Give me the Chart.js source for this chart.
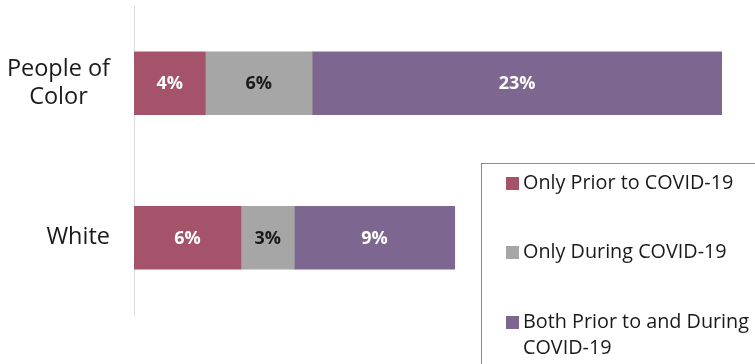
<!DOCTYPE html>
<html>
<head>
<meta charset="utf-8">
<script src="https://cdn.jsdelivr.net/npm/chart.js@4"></script>
<style>
  body { margin: 0; background: #fff; }
  #wrap { width: 755px; height: 364px; }
</style>
</head>
<body>
<div id="wrap"><canvas id="chart" width="755" height="364"></canvas></div>
<script>
// Groups and shares (percent)
const categories = [['People of', 'Color'], ['White']];
const seriesNames = ['Only Prior to COVID-19', 'Only During COVID-19', ['Both Prior to and During', 'COVID-19']];
const priorOnly = [4, 6];
const duringOnly = [6, 3];
const bothPeriods = [23, 9];
const seriesColors = ['#A4536B', '#A6A6A6', '#7D668F'];
const labelColors = ['#ffffff', '#1a1a1a', '#ffffff'];

const FONT = '"Open Sans", "Noto Sans", sans-serif';

// Category names drawn left of the axis, lines centred inside a right-aligned block
const categoryLabels = {
    id: 'categoryLabels',
    afterDraw(chart) {
        const ctx = chart.ctx;
        const yScale = chart.scales.y;
        const right = chart.chartArea.left - 24;
        const lineHeight = 28;
        ctx.save();
        ctx.font = '23.5px ' + FONT;
        ctx.fillStyle = '#1a1a1a';
        ctx.textAlign = 'center';
        ctx.textBaseline = 'middle';
        categories.forEach((lines, i) => {
            const y = yScale.getPixelForValue(i);
            const blockWidth = Math.max(...lines.map(l => ctx.measureText(l).width));
            const cx = right - blockWidth / 2;
            const top = y - (lines.length - 1) * lineHeight / 2;
            lines.forEach((line, j) => ctx.fillText(line, cx, top + j * lineHeight));
        });
        ctx.restore();
    }
};

// Percent labels in the middle of each segment
const segmentLabels = {
    id: 'segmentLabels',
    afterDatasetsDraw(chart) {
        const ctx = chart.ctx;
        ctx.save();
        ctx.font = 'bold 18px ' + FONT;
        ctx.textAlign = 'center';
        ctx.textBaseline = 'middle';
        chart.data.datasets.forEach((ds, di) => {
            const meta = chart.getDatasetMeta(di);
            ctx.fillStyle = labelColors[di];
            meta.data.forEach((bar, i) => {
                const x = (bar.x + bar.base) / 2;
                ctx.fillText(ds.data[i] + '%', x, bar.y + 1);
            });
        });
        ctx.restore();
    }
};

// Boxed legend in the lower right corner
const boxLegend = {
    id: 'boxLegend',
    afterDraw(chart) {
        const ctx = chart.ctx;
        const box = { x: 481.5, y: 163.5 };
        const rowY = [183, 252, 322];
        ctx.save();
        ctx.strokeStyle = '#8c8c8c';
        ctx.lineWidth = 1;
        ctx.strokeRect(box.x, box.y, 300, 250);
        ctx.font = '19.8px ' + FONT;
        ctx.textBaseline = 'middle';
        ctx.textAlign = 'left';
        chart.data.datasets.forEach((ds, di) => {
            const y = rowY[di];
            ctx.fillStyle = ds.backgroundColor;
            ctx.fillRect(506, y - 6, 13, 13);
            ctx.fillStyle = '#1a1a1a';
            const lines = Array.isArray(ds.label) ? ds.label : [ds.label];
            lines.forEach((line, j) => ctx.fillText(line, 523, y + j * 26));
        });
        ctx.restore();
    }
};

new Chart(document.getElementById('chart'), {
    type: 'bar',
    data: {
        labels: categories,
        datasets: [
            { label: seriesNames[0], data: priorOnly, backgroundColor: seriesColors[0] },
            { label: seriesNames[1], data: duringOnly, backgroundColor: seriesColors[1] },
            { label: seriesNames[2], data: bothPeriods, backgroundColor: seriesColors[2] }
        ]
    },
    options: {
        indexAxis: 'y',
        responsive: false,
        animation: false,
        barThickness: 63,
        layout: { padding: { left: 134, right: 33, top: 6, bottom: 49 } },
        scales: {
            x: {
                stacked: true,
                min: 0,
                max: 33,
                display: false
            },
            y: {
                stacked: true,
                grid: { display: false, drawTicks: false },
                border: { display: true, color: '#d9d9d9', width: 1 },
                ticks: { display: false }
            }
        },
        plugins: {
            legend: { display: false },
            tooltip: { enabled: false }
        }
    },
    plugins: [categoryLabels, segmentLabels, boxLegend]
});
</script>
</body>
</html>
